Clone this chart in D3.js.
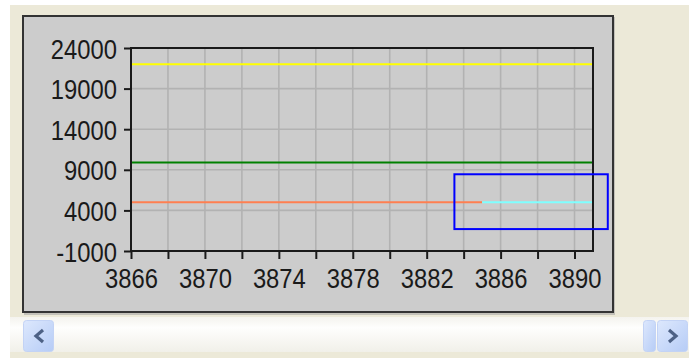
<!DOCTYPE html>
<html>
<head>
<meta charset="utf-8">
<script src="https://cdn.jsdelivr.net/npm/d3@7/dist/d3.min.js"></script>
<style>
  html, body { margin: 0; padding: 0; background: #ffffff; }
  svg { display: block; }
  text { font-family: "Liberation Sans", Arial, sans-serif; fill: #1a1a1a; }
</style>
</head>
<body>
<svg id="chart" width="689" height="358"></svg>
<script>
// ---- data ----
const xDomain = [3866, 3891];
const yDomain = [-1000, 24000];
const xTicks = [3866, 3868, 3870, 3872, 3874, 3876, 3878, 3880, 3882, 3884, 3886, 3888, 3890];
const xTickLabels = [3866, 3870, 3874, 3878, 3882, 3886, 3890];
const yTicks = [-1000, 4000, 9000, 14000, 19000, 24000];

const yellowX = [3866, 3891];
const yellowY = [22000, 22000];
const greenX = [3866, 3891];
const greenY = [9900, 9900];
const orangeX = [3866, 3885];
const orangeY = [5000, 5000];
const cyanX = [3885, 3891];
const cyanY = [5000, 5000];

// selection box in data units
const boxX = [3883.5, 3891.8];
const boxY = [1700, 8450];

// ---- layout ----
const svg = d3.select("#chart");
const plot = { left: 131, right: 593, top: 48, bottom: 251 };
const x = d3.scaleLinear().domain(xDomain).range([plot.left, plot.right]);
const y = d3.scaleLinear().domain(yDomain).range([plot.bottom, plot.top]);

// window background
svg.append("rect").attr("x", 10).attr("y", 5).attr("width", 679).attr("height", 353).attr("fill", "#ECE9D8");

// chart panel
svg.append("rect").attr("x", 24).attr("y", 17).attr("width", 591).attr("height", 298)
  .attr("fill", "#9a9a9a").attr("opacity", 0.5);
svg.append("rect").attr("x", 23).attr("y", 16).attr("width", 590).attr("height", 296)
  .attr("fill", "#CCCCCC").attr("stroke", "#333333").attr("stroke-width", 2);

// grid
const g = svg.append("g");
g.selectAll("line.gx").data(xTicks).join("line").attr("class", "gx")
  .attr("x1", d => x(d)).attr("x2", d => x(d))
  .attr("y1", plot.top).attr("y2", plot.bottom)
  .attr("stroke", "#B2B2B2").attr("stroke-width", 1.6);
g.selectAll("line.gy").data(yTicks).join("line").attr("class", "gy")
  .attr("x1", plot.left).attr("x2", plot.right)
  .attr("y1", d => y(d)).attr("y2", d => y(d))
  .attr("stroke", "#B2B2B2").attr("stroke-width", 1.6);

// series
const line = d3.line().x(d => x(d[0])).y(d => y(d[1]));
function drawSeries(xs, ys, color) {
  svg.append("path").datum(d3.zip(xs, ys)).attr("d", line)
    .attr("fill", "none").attr("stroke", color).attr("stroke-width", 2);
}
drawSeries(yellowX, yellowY, "#FFFF00");
drawSeries(greenX, greenY, "#008000");
drawSeries(orangeX, orangeY, "#FF7F50");
drawSeries(cyanX, cyanY, "#7FFFFF");

// plot frame
svg.append("rect").attr("x", plot.left).attr("y", plot.top)
  .attr("width", plot.right - plot.left).attr("height", plot.bottom - plot.top)
  .attr("fill", "none").attr("stroke", "#1a1a1a").attr("stroke-width", 2);

// axes
const sx = 0.85;
const yAxis = svg.append("g").attr("transform", `translate(${plot.left},0)`)
  .call(d3.axisLeft(y).tickValues(yTicks).tickSize(7).tickPadding(7).tickFormat(d => String(d)));
const xAxis = svg.append("g").attr("transform", `translate(0,${plot.bottom})`)
  .call(d3.axisBottom(x).tickValues(xTicks).tickSize(8).tickPadding(10)
    .tickFormat(d => xTickLabels.includes(d) ? String(d) : ""));
[yAxis, xAxis].forEach(a => {
  a.select(".domain").remove();
  a.selectAll(".tick line").attr("stroke", "#1a1a1a").attr("stroke-width", 2);
  a.selectAll("text").attr("fill", "#1a1a1a").style("font-size", "28px")
    .attr("font-family", null);
});
yAxis.selectAll("text").attr("x", -14 / sx).attr("dy", "0.36em").attr("transform", `scale(${sx},1)`);
xAxis.selectAll("text").attr("dy", "0.72em").attr("transform", `scale(${sx},1)`)
  .attr("y", 17);

// selection box
svg.append("rect")
  .attr("x", x(boxX[0])).attr("y", y(boxY[1]))
  .attr("width", x(boxX[1]) - x(boxX[0])).attr("height", y(boxY[0]) - y(boxY[1]))
  .attr("fill", "none").attr("stroke", "#0000FF").attr("stroke-width", 2);

// horizontal scrollbar
const defs = svg.append("defs");
const tg = defs.append("linearGradient").attr("id", "track").attr("x1", 0).attr("x2", 0).attr("y1", 0).attr("y2", 1);
tg.append("stop").attr("offset", 0).attr("stop-color", "#F4F3EE");
tg.append("stop").attr("offset", 0.3).attr("stop-color", "#FEFEFD");
tg.append("stop").attr("offset", 1).attr("stop-color", "#F1F0E9");
const bg = defs.append("linearGradient").attr("id", "btn").attr("x1", 0).attr("x2", 1).attr("y1", 0).attr("y2", 1);
bg.append("stop").attr("offset", 0).attr("stop-color", "#DDE8FD");
bg.append("stop").attr("offset", 1).attr("stop-color", "#B6CCF6");

svg.append("rect").attr("x", 10).attr("y", 317).attr("width", 679).attr("height", 35).attr("fill", "url(#track)");

function button(x0, w) {
  svg.append("rect").attr("x", x0).attr("y", 320.5).attr("width", w).attr("height", 31)
    .attr("rx", 3).attr("fill", "url(#btn)").attr("stroke", "#C3D3F5").attr("stroke-width", 1);
}
button(23.5, 30);
button(643.5, 12);
button(657.5, 30);
svg.append("path").attr("d", "M43,330 L36,336 L43,342").attr("fill", "none")
  .attr("stroke", "#4D6185").attr("stroke-width", 3.2);
svg.append("path").attr("d", "M669,330 L676,336 L669,342").attr("fill", "none")
  .attr("stroke", "#4D6185").attr("stroke-width", 3.2);
</script>
</body>
</html>
